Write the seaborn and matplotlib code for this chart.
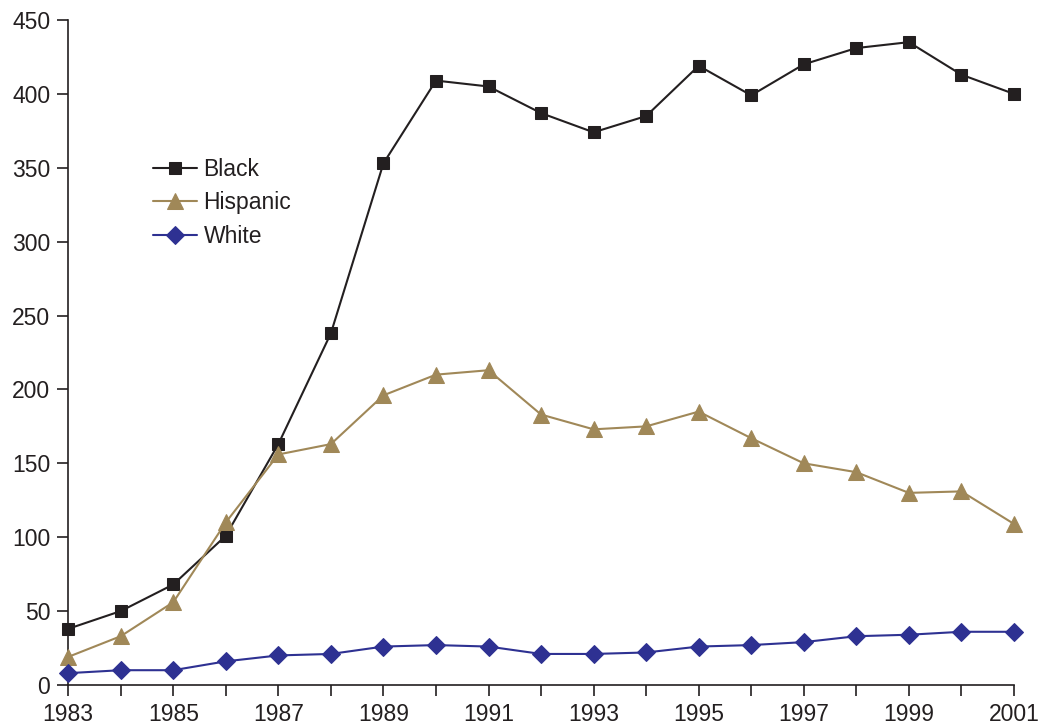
import matplotlib
matplotlib.use("Agg")
import matplotlib.pyplot as plt
import seaborn as sns
import pandas as pd

years = list(range(1983, 2002))
black = [38, 50, 68, 101, 163, 238, 353, 409, 405, 387, 374, 385, 419, 399, 420, 431, 435, 413, 400]
hispanic = [19, 33, 56, 110, 156, 163, 196, 210, 213, 183, 173, 175, 185, 167, 150, 144, 130, 131, 109]
white = [8, 10, 10, 16, 20, 21, 26, 27, 26, 21, 21, 22, 26, 27, 29, 33, 34, 36, 36]

series_names = ["Black", "Hispanic", "White"]
series_values = [black, hispanic, white]
colors = ["#231f20", "#a08858", "#2e3192"]
markers = ["s", "^", "D"]
marker_sizes = [9, 11, 9]

sns.set_style("white")
plt.rcParams["font.family"] = ["Liberation Sans", "DejaVu Sans"]

fig = plt.figure(figsize=(10.41, 7.27), dpi=100)
ax = fig.add_axes([0.0655, 0.0578, 0.9085, 0.9147])

for name, vals, c, m, ms in zip(series_names, series_values, colors, markers, marker_sizes):
    df = pd.DataFrame({"year": years, "value": vals})
    sns.lineplot(data=df, x="year", y="value", ax=ax, color=c, marker=m,
                 markersize=ms, markeredgecolor=c, linewidth=1.5, label=name,
                 clip_on=False, zorder=3)

ax.set_xlim(1983, 2001)
ax.set_ylim(0, 450)
ax.set_xticks(years)
ax.set_xticklabels([str(y) if (y - 1983) % 2 == 0 else "" for y in years])
ax.set_yticks(range(0, 451, 50))
ax.set_xlabel("")
ax.set_ylabel("")

for side in ["top", "right"]:
    ax.spines[side].set_visible(False)
for side in ["left", "bottom"]:
    ax.spines[side].set_color("#231f20")
    ax.spines[side].set_linewidth(1.2)

ax.tick_params(axis="both", which="major", direction="out", length=8, width=1.2,
               color="#231f20", labelsize=16.5, labelcolor="#231f20")
ax.tick_params(axis="x", pad=5, bottom=True)
ax.tick_params(axis="y", pad=5, left=True)

leg = ax.legend(loc="upper left", bbox_to_anchor=(0.08, 0.806), frameon=False,
                fontsize=16.5, handlelength=1.9, handletextpad=0.3, labelspacing=0.45,
                borderaxespad=0)
for t in leg.get_texts():
    t.set_color("#231f20")

fig.savefig("out.png", dpi=100)
